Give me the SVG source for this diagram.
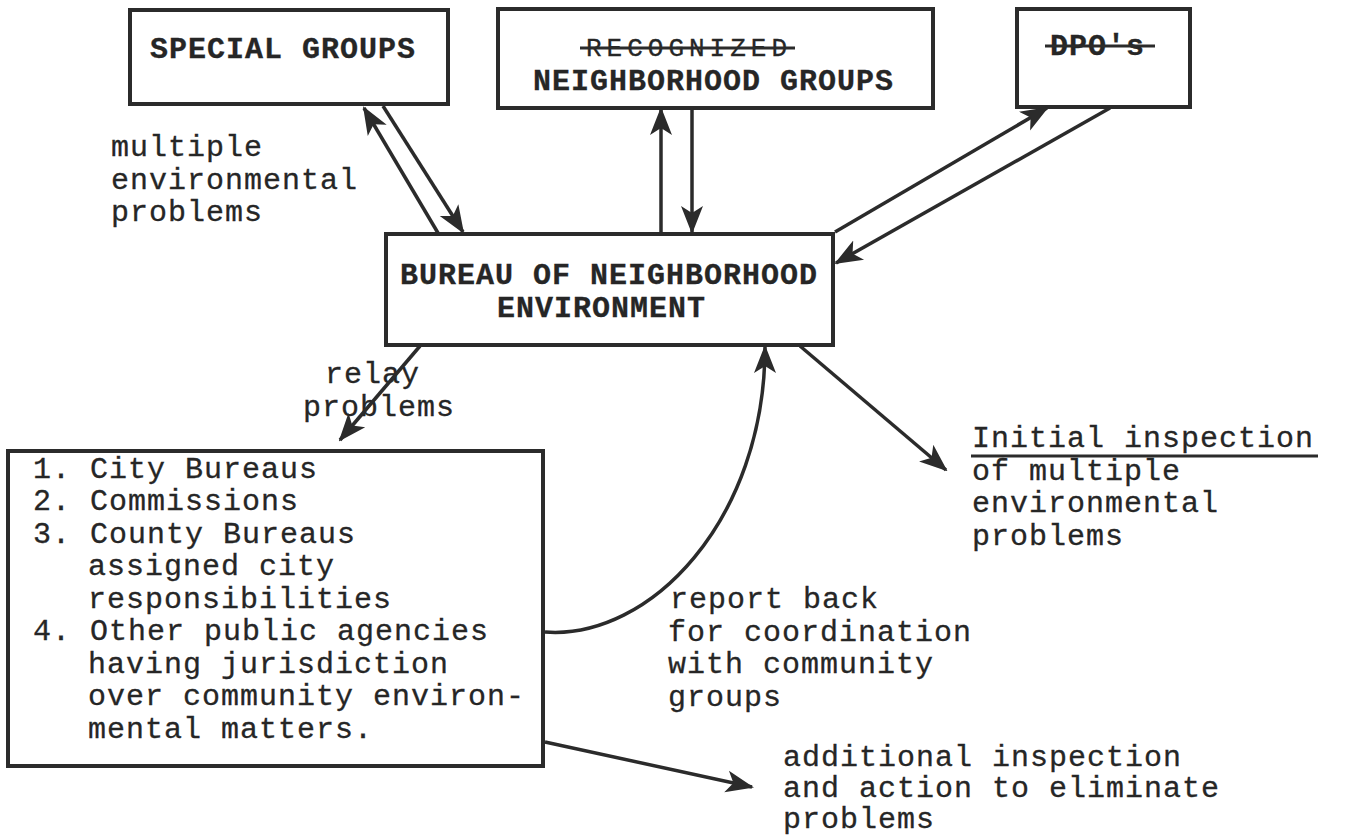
<svg xmlns="http://www.w3.org/2000/svg" width="1357" height="838" viewBox="0 0 1357 838">
<defs>
<marker id="ah" markerUnits="userSpaceOnUse" markerWidth="28" markerHeight="28" viewBox="0 0 28 28" refX="26" refY="14" orient="auto">
<path d="M0,3 L28,14 L0,25 L7,14 Z" fill="#2b2b2b"/>
</marker>
<style>
.box{fill:#fff;stroke:#2b2b2b;stroke-width:4}
.ln{fill:none;stroke:#2b2b2b;stroke-width:3.5;marker-end:url(#ah)}
.t{font-family:"Liberation Mono","Courier New",monospace;font-size:30px;letter-spacing:1px;fill:#262626;stroke:#262626;stroke-width:0.3}
.b{font-weight:bold}
.strike{stroke:#2b2b2b;stroke-width:3}
</style>
</defs>
<rect width="1357" height="838" fill="#fff"/>
<g id="special-groups">
<rect class="box" x="130" y="10" width="318" height="94"/>
<text class="t b" x="150" y="58">SPECIAL GROUPS</text>
</g>
<g id="neighborhood-groups">
<rect class="box" x="498" y="9" width="435" height="99"/>
<text class="t" x="586" y="56" style="font-size:26px;letter-spacing:5px">RECOGNIZED</text>
<line class="strike" x1="580" y1="48" x2="795" y2="48"/>
<text class="t b" x="533" y="90">NEIGHBORHOOD GROUPS</text>
</g>
<g id="dpos">
<rect class="box" x="1017" y="9" width="173" height="98"/>
<text class="t b" x="1050" y="55">DPO's</text>
<line class="strike" x1="1045" y1="46" x2="1155" y2="46"/>
</g>
<g id="bureau">
<rect class="box" x="386" y="234" width="447" height="111"/>
<text class="t b" x="400" y="284">BUREAU OF NEIGHBORHOOD</text>
<text class="t b" x="497" y="317">ENVIRONMENT</text>
</g>
<g id="agencies">
<rect class="box" x="8" y="451" width="535" height="315"/>
<text class="t">
<tspan x="33" y="478">1. City Bureaus</tspan>
<tspan x="33" y="510">2. Commissions</tspan>
<tspan x="33" y="543">3. County Bureaus</tspan>
<tspan x="88" y="575">assigned city</tspan>
<tspan x="88" y="608">responsibilities</tspan>
<tspan x="33" y="640">4. Other public agencies</tspan>
<tspan x="88" y="673">having jurisdiction</tspan>
<tspan x="88" y="705">over community environ-</tspan>
<tspan x="88" y="738">mental matters.</tspan>
</text>
</g>
<g id="labels">
<text class="t"><tspan x="111" y="156">multiple</tspan><tspan x="111" y="189">environmental</tspan><tspan x="111" y="221">problems</tspan></text>
<text class="t"><tspan x="325" y="383">relay</tspan><tspan x="303" y="416">problems</tspan></text>
<text class="t"><tspan x="972" y="447">Initial inspection</tspan><tspan x="972" y="480">of multiple</tspan><tspan x="972" y="512">environmental</tspan><tspan x="972" y="545">problems</tspan></text>
<line class="strike" x1="971" y1="456" x2="1318" y2="456"/>
<text class="t"><tspan x="670" y="608">report back</tspan><tspan x="668" y="641">for coordination</tspan><tspan x="668" y="673">with community</tspan><tspan x="668" y="706">groups</tspan></text>
<text class="t"><tspan x="783" y="766">additional inspection</tspan><tspan x="783" y="797">and action to eliminate</tspan><tspan x="783" y="828">problems</tspan></text>
</g>
<g id="connectors">
<line class="ln" x1="438" y1="233" x2="364" y2="108"/>
<line class="ln" x1="383" y1="106" x2="463" y2="232"/>
<line class="ln" x1="661" y1="233" x2="661" y2="109"/>
<line class="ln" x1="692" y1="108" x2="692" y2="232"/>
<line class="ln" x1="835" y1="232" x2="1047" y2="108"/>
<line class="ln" x1="1110" y1="108" x2="836" y2="263"/>
<line class="ln" x1="420" y1="346" x2="340" y2="440"/>
<path class="ln" d="M545,632 C650,640 765,520 765,347"/>
<line class="ln" x1="800" y1="346" x2="946" y2="470"/>
<line class="ln" x1="545" y1="742" x2="752" y2="787"/>
</g>
</svg>
